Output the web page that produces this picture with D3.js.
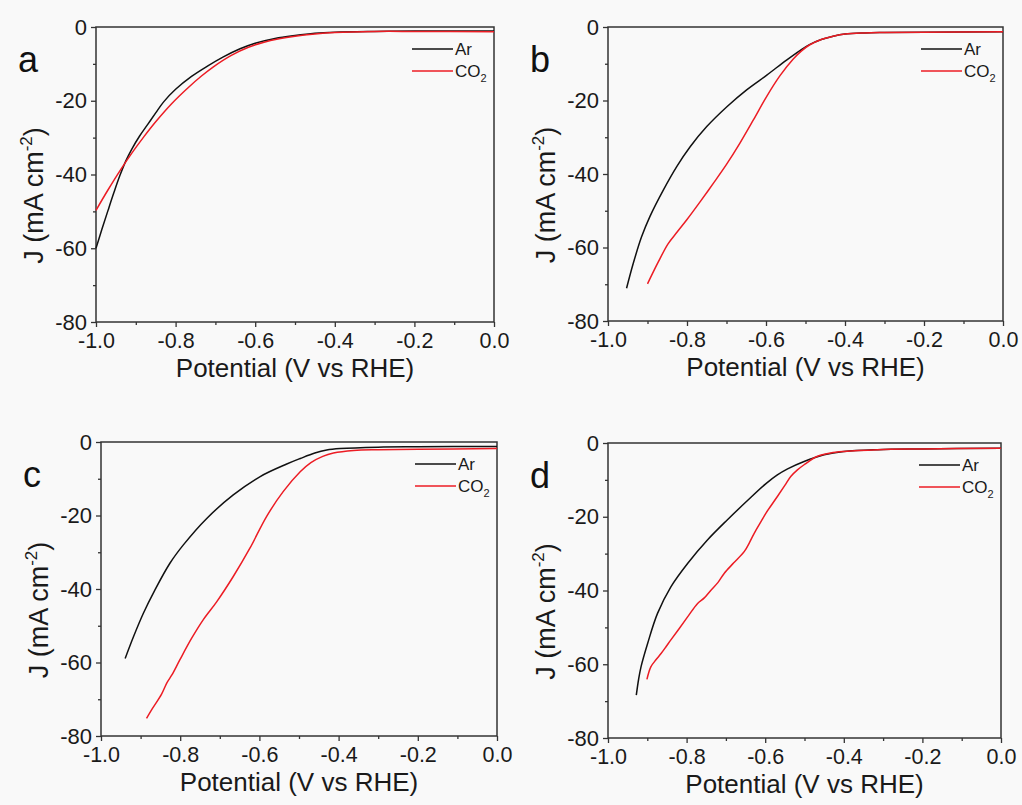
<!DOCTYPE html>
<html>
<head>
<meta charset="utf-8">
<script src="https://cdn.jsdelivr.net/npm/d3@7"></script>
<style>
  html, body { margin: 0; padding: 0; background: #f9f9f9; }
  svg { display: block; font-family: "Liberation Sans", Arial, sans-serif; }
</style>
</head>
<body>
<div id="chart"></div>
<script>
// LSV curves, J (mA cm-2) vs potential (V vs RHE)

const potentialTicks = [-1.0, -0.8, -0.6, -0.4, -0.2, 0.0];
const potentialMinor = [-0.9, -0.7, -0.5, -0.3, -0.1];
const currentTicks = [0, -20, -40, -60, -80];
const currentMinor = [-10, -30, -50, -70];
const panelLetters = ["a", "b", "c", "d"];
const seriesNames = ["Ar", "CO2"];

const arA = [[-1.00,-60.0],[-0.985,-54.8],[-0.97,-49.8],[-0.955,-44.9],[-0.94,-40.3],[-0.925,-36.3],
  [-0.91,-33.1],[-0.89,-29.5],[-0.87,-26.4],[-0.85,-23.3],[-0.83,-20.3],[-0.80,-16.9],[-0.76,-13.4],
  [-0.72,-10.6],[-0.68,-8.1],[-0.638,-5.9],[-0.60,-4.4],[-0.55,-3.1],[-0.50,-2.3],[-0.45,-1.7],
  [-0.40,-1.4],[-0.30,-1.2],[-0.20,-1.1],[0.00,-1.1]];
const co2A = [[-1.00,-49.7],[-0.97,-44.2],[-0.94,-39.0],[-0.91,-34.2],[-0.88,-29.8],[-0.85,-25.7],
  [-0.81,-20.8],[-0.77,-16.6],[-0.735,-13.3],[-0.705,-10.8],[-0.66,-7.7],[-0.617,-5.5],[-0.58,-4.2],
  [-0.54,-3.2],[-0.50,-2.5],[-0.45,-1.9],[-0.40,-1.5],[-0.30,-1.2],[-0.20,-1.2],[0.00,-1.3]];

const arB = [[-0.953,-71.1],[-0.936,-64.3],[-0.915,-57.1],[-0.894,-51.6],[-0.860,-44.4],[-0.826,-38.0],
  [-0.792,-32.6],[-0.750,-27.1],[-0.699,-21.7],[-0.649,-17.1],[-0.598,-13.1],[-0.548,-9.0],[-0.514,-6.4],
  [-0.49,-4.8],[-0.46,-3.4],[-0.43,-2.5],[-0.40,-1.9],[-0.35,-1.6],[-0.30,-1.5],[-0.20,-1.4],[0.00,-1.3]];
const co2B = [[-0.900,-69.9],[-0.873,-64.0],[-0.848,-59.0],[-0.825,-55.8],[-0.80,-52.4],[-0.767,-47.6],
  [-0.733,-42.5],[-0.70,-37.4],[-0.666,-31.6],[-0.632,-25.3],[-0.60,-19.2],[-0.565,-13.3],[-0.531,-8.7],
  [-0.51,-6.5],[-0.49,-4.9],[-0.46,-3.4],[-0.43,-2.5],[-0.40,-1.9],[-0.35,-1.6],[-0.30,-1.5],
  [-0.20,-1.4],[0.00,-1.3]];

const arC = [[-0.939,-58.9],[-0.918,-53.0],[-0.893,-46.6],[-0.864,-40.3],[-0.826,-33.0],[-0.792,-28.0],
  [-0.733,-20.8],[-0.666,-14.4],[-0.598,-9.4],[-0.531,-6.0],[-0.497,-4.5],[-0.46,-3.0],[-0.43,-2.2],
  [-0.396,-1.8],[-0.30,-1.4],[-0.20,-1.3],[0.00,-1.2]];
const co2C = [[-0.885,-75.2],[-0.870,-72.5],[-0.847,-68.6],[-0.833,-65.4],[-0.821,-63.4],[-0.801,-59.3],
  [-0.771,-53.4],[-0.742,-48.4],[-0.708,-43.5],[-0.666,-36.6],[-0.624,-28.9],[-0.582,-20.3],
  [-0.540,-13.5],[-0.497,-8.1],[-0.47,-5.6],[-0.44,-3.9],[-0.413,-3.0],[-0.362,-2.3],[-0.30,-2.1],
  [-0.20,-2.0],[0.00,-1.8]];

const arD = [[-0.928,-68.4],[-0.922,-64.0],[-0.916,-60.7],[-0.899,-54.3],[-0.874,-46.2],[-0.84,-39.0],
  [-0.797,-32.6],[-0.747,-26.3],[-0.696,-20.8],[-0.645,-15.6],[-0.598,-11.0],[-0.57,-8.7],[-0.543,-7.0],
  [-0.501,-5.0],[-0.45,-3.2],[-0.40,-2.3],[-0.314,-1.8],[-0.20,-1.6],[0.00,-1.4]];
const co2D = [[-0.901,-64.1],[-0.891,-60.7],[-0.878,-58.8],[-0.865,-57.1],[-0.852,-55.2],[-0.84,-53.4],
  [-0.82,-50.5],[-0.797,-47.1],[-0.772,-43.5],[-0.755,-42.0],[-0.738,-39.9],[-0.72,-37.8],[-0.704,-35.3],
  [-0.68,-32.5],[-0.653,-29.4],[-0.64,-27.0],[-0.628,-24.5],[-0.61,-21.2],[-0.598,-19.0],[-0.569,-14.5],
  [-0.55,-11.5],[-0.535,-9.1],[-0.518,-7.3],[-0.501,-5.9],[-0.467,-3.6],[-0.433,-2.7],[-0.40,-2.3],
  [-0.314,-1.8],[-0.20,-1.6],[0.00,-1.4]];

const panelSeries = [[arA, co2A], [arB, co2B], [arC, co2C], [arD, co2D]];

// plot boxes in page pixels
const boxes = [
  { left: 96,  top: 27,  w: 398, h: 295 },
  { left: 608, top: 27,  w: 395, h: 294 },
  { left: 101, top: 442, w: 396, h: 294 },
  { left: 608, top: 443, w: 393, h: 295 }
];
const colors = ["#111", "#ec1c24"];
const axisColor = "#333";

const width = 1022, height = 805;
const svg = d3.select("#chart").append("svg")
    .attr("width", width)
    .attr("height", height);

svg.append("rect").attr("width", width).attr("height", height).attr("fill", "#f9f9f9");

boxes.forEach((b, i) => {
    const g = svg.append("g").attr("transform", `translate(${b.left},${b.top})`);

    const x = d3.scaleLinear().domain([-1.0, 0.0]).range([0, b.w]);
    const y = d3.scaleLinear().domain([-80, 0]).range([b.h, 0]);

    // minor ticks
    g.append("g")
        .attr("transform", `translate(0,${b.h})`)
        .call(d3.axisBottom(x).tickValues(potentialMinor).tickSize(3).tickFormat(""))
        .call(a => a.select(".domain").remove());
    g.append("g")
        .call(d3.axisLeft(y).tickValues(currentMinor).tickSize(3).tickFormat(""))
        .call(a => a.select(".domain").remove());

    // X axis
    g.append("g")
        .attr("transform", `translate(0,${b.h})`)
        .call(d3.axisBottom(x).tickValues(potentialTicks).tickSize(5).tickPadding(6)
            .tickFormat(d => d.toFixed(1)))
        .call(a => a.selectAll("text").attr("font-size", "21.5px").attr("fill", "#1a1a1a"))
        .call(a => a.select(".domain").remove());

    // Y axis
    g.append("g")
        .call(d3.axisLeft(y).tickValues(currentTicks).tickSize(5).tickPadding(4)
            .tickFormat(d => String(d)))
        .call(a => a.selectAll("text").attr("font-size", "22px").attr("fill", "#1a1a1a"))
        .call(a => a.select(".domain").remove());

    g.selectAll(".tick line").attr("stroke", axisColor).attr("stroke-width", 1.3);

    // frame
    g.append("rect")
        .attr("width", b.w).attr("height", b.h)
        .attr("fill", "none")
        .attr("stroke", axisColor)
        .attr("stroke-width", 1.5);

    // curves
    const line = d3.line()
        .x(d => x(d[0]))
        .y(d => y(d[1]))
        .curve(d3.curveCatmullRom.alpha(0.5));

    panelSeries[i].forEach((s, k) => {
        g.append("path")
            .datum(s)
            .attr("fill", "none")
            .attr("stroke", colors[k])
            .attr("stroke-width", 1.5)
            .attr("stroke-linejoin", "round")
            .attr("d", line);
    });

    // legend
    const lg = g.append("g").attr("transform", `translate(${b.w - 82},22)`);
    seriesNames.forEach((name, k) => {
        const row = lg.append("g").attr("transform", `translate(0,${k * 22})`);
        row.append("line")
            .attr("x1", 0).attr("x2", 41)
            .attr("stroke", colors[k]).attr("stroke-width", 1.5);
        const t = row.append("text")
            .attr("x", 43).attr("y", 6)
            .attr("font-size", "17px")
            .attr("fill", "#1a1a1a");
        if (name === "CO2") {
            t.append("tspan").text("CO");
            t.append("tspan").attr("font-size", "11px").attr("dy", 5).text("2");
        } else {
            t.text(name);
        }
    });

    // panel letter
    g.append("text")
        .attr("x", -78).attr("y", 45)
        .attr("font-size", "36px")
        .attr("fill", "#111")
        .text(panelLetters[i]);

    // X axis title
    g.append("text")
        .attr("x", b.w / 2).attr("y", b.h + 55)
        .attr("text-anchor", "middle")
        .attr("font-size", "26px")
        .attr("fill", "#1a1a1a")
        .text("Potential (V vs RHE)");

    // Y axis title
    const yt = g.append("text")
        .attr("transform", `translate(-53,${b.h / 2 + 21}) rotate(-90)`)
        .attr("text-anchor", "middle")
        .attr("font-size", "27px")
        .attr("fill", "#1a1a1a");
    yt.append("tspan").text("J (mA cm");
    yt.append("tspan").attr("font-size", "17px").attr("dy", -11).text("-2");
    yt.append("tspan").attr("dy", 11).text(")");
});
</script>
</body>
</html>
